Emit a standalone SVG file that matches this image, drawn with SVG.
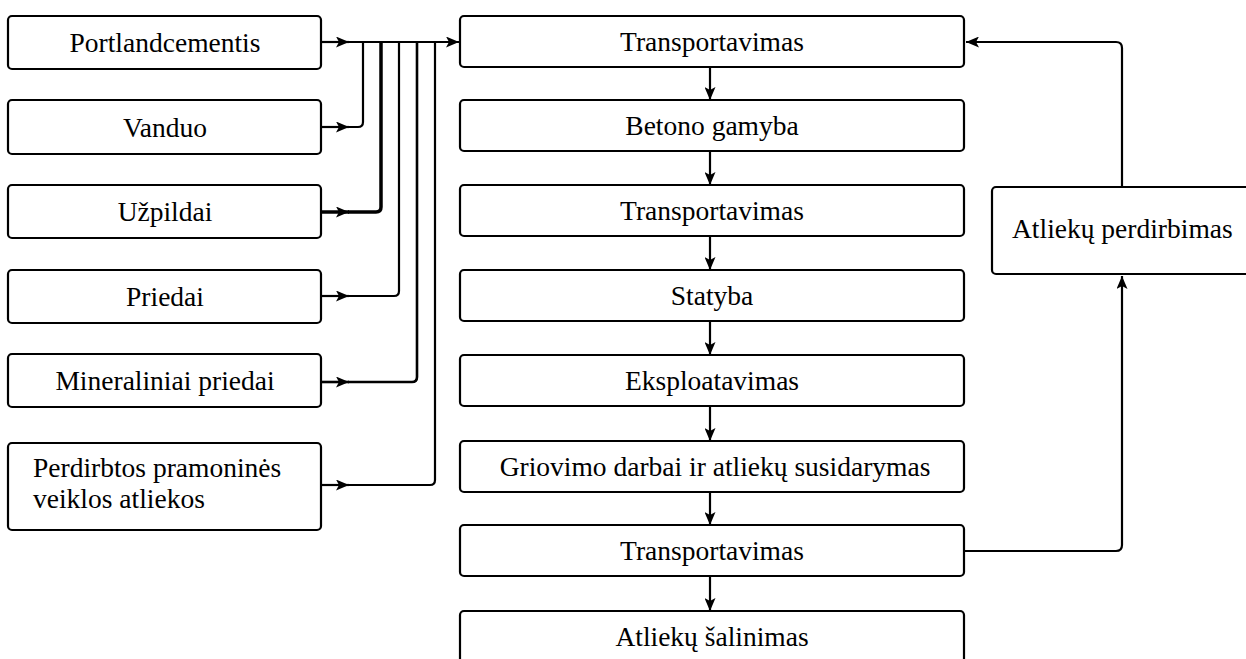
<svg xmlns="http://www.w3.org/2000/svg" width="1246" height="659" viewBox="0 0 1246 659">
<defs>
<style>
.box{fill:#fff;stroke:#000;stroke-width:2.2}
.t{font-family:'Liberation Serif','Times New Roman',serif;font-size:27.5px;fill:#000}
.c{text-anchor:middle}
.ln{fill:none;stroke:#000;stroke-width:2.2}
.thk{stroke-width:3.5}
.mid{stroke-width:2.6}
</style>
<marker id="arr" viewBox="0 0 13 11" refX="13" refY="5.5" markerWidth="13" markerHeight="11" markerUnits="userSpaceOnUse" orient="auto">
<path d="M0,0 L13,5.5 L0,11 L3,5.5 z" fill="#000"/>
</marker>
</defs>
<rect width="1246" height="659" fill="#fff"/>

<g id="connectors">
<path class="ln" d="M321,42 L349,42" marker-end="url(#arr)"/>
<path class="ln" d="M348,42 L459,42" marker-end="url(#arr)"/>
<path class="ln" d="M321,127 L349,127" marker-end="url(#arr)"/>
<path class="ln" d="M348,127 L358,127 Q363,127 363,122 L363,42"/>
<path class="ln thk" d="M321,212 L349,212" marker-end="url(#arr)"/>
<path class="ln thk" d="M348,212 L376,212 Q381,212 381,207 L381,42"/>
<path class="ln" d="M321,296 L349,296" marker-end="url(#arr)"/>
<path class="ln" d="M348,296 L394,296 Q399,296 399,291 L399,42"/>
<path class="ln mid" d="M321,382 L349,382" marker-end="url(#arr)"/>
<path class="ln mid" d="M348,382 L412,382 Q417,382 417,377 L417,42"/>
<path class="ln" d="M321,485 L349,485" marker-end="url(#arr)"/>
<path class="ln" d="M348,485 L430,485 Q435,485 435,480 L435,42"/>
<path class="ln" d="M710,67 L710,100" marker-end="url(#arr)"/>
<path class="ln" d="M710,151 L710,185" marker-end="url(#arr)"/>
<path class="ln" d="M710,236 L710,270" marker-end="url(#arr)"/>
<path class="ln" d="M710,321 L710,355" marker-end="url(#arr)"/>
<path class="ln" d="M710,406 L710,441" marker-end="url(#arr)"/>
<path class="ln" d="M710,492 L710,525" marker-end="url(#arr)"/>
<path class="ln" d="M710,576 L710,611" marker-end="url(#arr)"/>
<path class="ln" d="M964,551 L1116,551 Q1122,551 1122,545 L1122,276" marker-end="url(#arr)"/>
<path class="ln" d="M1122,187 L1122,48 Q1122,42 1116,42 L966,42" marker-end="url(#arr)"/>
</g>

<g id="n-portland"><rect class="box" x="8" y="16" width="313" height="53" rx="4"/><text class="t c" x="165" y="52">Portlandcementis</text></g>
<g id="n-vanduo"><rect class="box" x="8" y="100" width="313" height="54" rx="4"/><text class="t c" x="165" y="137">Vanduo</text></g>
<g id="n-uzpildai"><rect class="box" x="8" y="185" width="313" height="53" rx="4"/><text class="t c" x="165" y="221">Užpildai</text></g>
<g id="n-priedai"><rect class="box" x="8" y="270" width="313" height="53" rx="4"/><text class="t c" x="165" y="306">Priedai</text></g>
<g id="n-mineral"><rect class="box" x="8" y="354" width="313" height="53" rx="4"/><text class="t c" x="165" y="390">Mineraliniai priedai</text></g>
<g id="n-perdirbtos"><rect class="box" x="8" y="443" width="313" height="87" rx="4"/><text class="t" x="33" y="477">Perdirbtos pramoninės</text><text class="t" x="33" y="508">veiklos atliekos</text></g>

<g id="n-transp1"><rect class="box" x="460" y="16" width="504" height="51" rx="4"/><text class="t c" x="712" y="51">Transportavimas</text></g>
<g id="n-betono"><rect class="box" x="460" y="100" width="504" height="51" rx="4"/><text class="t c" x="712" y="135">Betono gamyba</text></g>
<g id="n-transp2"><rect class="box" x="460" y="185" width="504" height="51" rx="4"/><text class="t c" x="712" y="220">Transportavimas</text></g>
<g id="n-statyba"><rect class="box" x="460" y="270" width="504" height="51" rx="4"/><text class="t c" x="712" y="305">Statyba</text></g>
<g id="n-eksplo"><rect class="box" x="460" y="355" width="504" height="51" rx="4"/><text class="t c" x="712" y="390">Eksploatavimas</text></g>
<g id="n-griovimo"><rect class="box" x="460" y="441" width="504" height="51" rx="4"/><text class="t c" x="715" y="476">Griovimo darbai ir atliekų susidarymas</text></g>
<g id="n-transp3"><rect class="box" x="460" y="525" width="504" height="51" rx="4"/><text class="t c" x="712" y="560">Transportavimas</text></g>
<g id="n-salinimas"><rect class="box" x="460" y="611" width="504" height="60" rx="4"/><text class="t c" x="712" y="646">Atliekų šalinimas</text></g>

<g id="n-perdirbimas"><rect class="box" x="992" y="187" width="270" height="87" rx="4"/><text class="t" x="1012" y="238">Atliekų perdirbimas</text></g>
</svg>
